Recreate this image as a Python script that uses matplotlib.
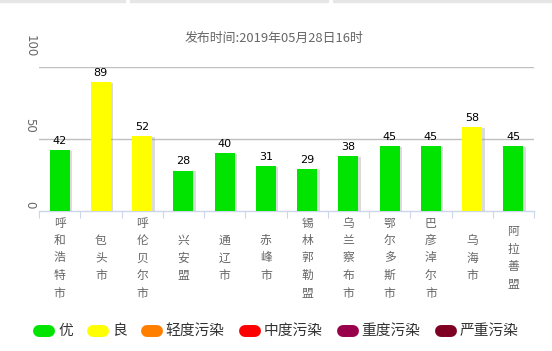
import matplotlib
matplotlib.use("Agg")
import matplotlib.pyplot as plt
import matplotlib.patheffects as pe
from matplotlib.patches import Rectangle
import matplotlib.transforms as mtrans

plt.rcParams['font.family'] = ['Noto Sans CJK SC', 'DejaVu Sans']

title = "发布时间:2019年05月28日16时"
cities = ["呼和浩特市", "包头市", "呼伦贝尔市", "兴安盟", "通辽市", "赤峰市",
          "锡林郭勒盟", "乌兰察布市", "鄂尔多斯市", "巴彦淖尔市", "乌海市", "阿拉善盟"]
aqi = [42, 89, 52, 28, 40, 31, 29, 38, 45, 45, 58, 45]
yticks = [0, 50, 100]
levels = ["优", "良", "轻度污染", "中度污染", "重度污染", "严重污染"]
level_colors = ["#00e400", "#ffff00", "#ff7e00", "#ff0000", "#99004c", "#7e0023"]
level_limits = [50, 100, 150, 200, 300, 10000]


def color_for(v):
    for lim, c in zip(level_limits, level_colors):
        if v <= lim:
            return c
    return level_colors[-1]


W, H = 552, 351
fig = plt.figure(figsize=(W / 100, H / 100), dpi=100)
ax = fig.add_axes([39 / W, 1 - 211 / H, (534 - 39) / W, (211 - 66.5) / H])

n = len(cities)
xs = list(range(n))
bars = ax.bar(xs, aqi, width=0.49, color=[color_for(v) for v in aqi], zorder=3,
              linewidth=0)
for b in bars:
    b.set_path_effects([pe.SimplePatchShadow(offset=(1.8, -0.6), shadow_rgbFace='#999999', alpha=0.35),
                        pe.Normal()])

for x, v in zip(xs, aqi):
    ax.annotate(str(v), (x, v), xytext=(0, 3), textcoords='offset points',
                ha='center', va='bottom', fontsize=8, color='#000000',
                family=['DejaVu Sans'], zorder=5)

ax.set_xlim(-0.5, n - 0.5)
ax.set_ylim(0, 100)

for s in ['top', 'right', 'left']:
    ax.spines[s].set_visible(False)
ax.spines['bottom'].set_color('#ccd6eb')
ax.spines['bottom'].set_linewidth(1)

for y in yticks[1:]:
    ax.axhline(y, color='#c0c0c0', linewidth=1, zorder=1)

ax.set_yticks([])
ax.set_xticks([i - 0.5 for i in range(1, n + 1)] + [-0.5])
ax.tick_params(axis='x', length=5, color='#ccd6eb', labelbottom=False)

# y tick labels, rotated
for y, off in zip(yticks, [3, 6, 9]):
    tr = mtrans.offset_copy(ax.get_yaxis_transform(), fig=fig, x=0, y=off, units='dots')
    ax.text(-9 / ((534 - 39)), y, str(y), rotation=-90, ha='center', va='bottom',
            fontsize=8.5, color='#666666', transform=tr, family=['DejaVu Sans'])

# x category labels, stacked vertically
for x, c in zip(xs, cities):
    ax.text(x, 1 - 258 / H, "\n".join(c), transform=mtrans.blended_transform_factory(ax.transData, fig.transFigure),
            ha='center', va='center', fontsize=8.5, color='#666666', linespacing=1.45)

fig.text(274 / W, 1 - 38 / H, title, ha='center', va='center', fontsize=9.3, color='#666666')

# top strips
for x0, x1 in [(0, 125), (130, 328), (333, 552)]:
    fig.patches.append(Rectangle((x0 / W, 1 - 2 / H), (x1 - x0) / W, 2 / H,
                                 transform=fig.transFigure, color='#e6e6e6', zorder=0))

# legend
fig.canvas.draw()
renderer = fig.canvas.get_renderer()
xpos = 33
ycen = 331
for lab, col in zip(levels, level_colors):
    fig.lines.append(plt.Line2D([(xpos + 6) / W, (xpos + 16) / W], [(H - ycen) / H, (H - ycen) / H],
                                transform=fig.transFigure, color=col, linewidth=8.6,
                                solid_capstyle='round'))
    t = fig.text((xpos + 25) / W, (H - ycen) / H, lab, ha='left', va='center',
                 fontsize=10.6, color='#333333')
    bb = t.get_window_extent(renderer)
    xpos = bb.x1 + 14

fig.savefig("out.png", dpi=100)
